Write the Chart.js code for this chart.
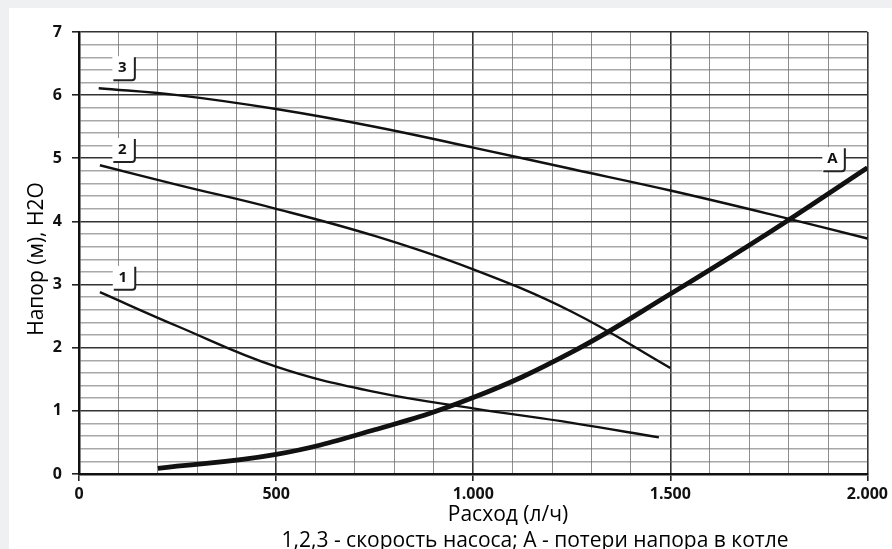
<!DOCTYPE html>
<html><head><meta charset="utf-8">
<script src="https://cdn.jsdelivr.net/npm/chart.js@4.4.0/dist/chart.umd.min.js"></script>
<style>
html,body{margin:0;padding:0;background:#eff0f2;width:892px;height:549px;overflow:hidden;}
#wrap{position:absolute;left:9px;top:8px;width:883px;height:541px;background:#fff;}
canvas{display:block;}
</style></head><body>
<div id="wrap"><canvas id="c" width="883" height="541"></canvas></div>
<script>
// ---- data (flow in l/h, head in m) ----
const flow3 = [50, 250, 500, 750, 1000, 1250, 1500, 1750, 2000];
const head3 = [6.11, 6.0, 5.78, 5.5, 5.17, 4.83, 4.49, 4.12, 3.73];
const flow2 = [53, 250, 500, 750, 1000, 1250, 1500];
const head2 = [4.89, 4.58, 4.2, 3.77, 3.24, 2.57, 1.68];
const flow1 = [53, 250, 500, 750, 1000, 1250, 1471];
const head1 = [2.88, 2.34, 1.7, 1.3, 1.04, 0.81, 0.58];
const flowA = [200, 500, 750, 1000, 1250, 1500, 1750, 2000];
const headA = [0.09, 0.31, 0.7, 1.21, 1.93, 2.85, 3.82, 4.85];

const curveNames = ['1', '2', '3', 'A'];
const labelFlow = [111, 110, 110, 1911];
const labelHead = [3.13, 5.155, 6.45, 5.01];

const xMajorTicks = [0, 500, 1000, 1500, 2000];
const xTickText = ['0', '500', '1.000', '1.500', '2.000'];
const yMajorTicks = [0, 1, 2, 3, 4, 5, 6, 7];

const xTitle = 'Расход (л/ч)';
const yTitle = 'Напор (м), H2O';
const noteText = '1,2,3 - скорость насоса; А - потери напора в котле';

// ---- helpers ----
const pts = (xs, ys) => xs.map((x, i) => ({x: x, y: ys[i]}));
const isMajorX = v => xMajorTicks.some(t => Math.abs(t - v) < 1e-6);
const isMajorY = v => yMajorTicks.some(t => Math.abs(t - v) < 1e-6);
const TICK_FONT = {family: "'Open Sans', 'Liberation Sans', sans-serif", size: 16, weight: 'bold'};
const TEXT_FONT = "500 21px 'Open Sans', 'Liberation Sans', sans-serif";

const lineDs = (label, data, w) => ({
  label, data, borderColor: '#111', borderWidth: w, pointRadius: 0,
  tension: 0.4, fill: false, borderCapStyle: 'butt'
});

const decor = {
  id: 'decor',
  afterDatasetsDraw(chart) {
    const {ctx, scales: {x, y}} = chart;
    ctx.save();
    curveNames.forEach((name, i) => {
      const cx = x.getPixelForValue(labelFlow[i]);
      const cy = y.getPixelForValue(labelHead[i]);
      const L = cx - 10, R = cx + 12.5, T = cy - 10.5, B = cy + 13.5;
      ctx.fillStyle = '#fff';
      ctx.fillRect(L, T, R - L, B - T);
      ctx.fillStyle = '#111';
      ctx.font = "bold 15px 'Open Sans', 'Liberation Sans', sans-serif";
      ctx.textAlign = 'center';
      ctx.textBaseline = 'middle';
      ctx.fillText(name, cx, cy + 1);
      ctx.strokeStyle = '#222';
      ctx.lineWidth = 2;
      ctx.beginPath();
      ctx.moveTo(R, T + 1);
      ctx.lineTo(R, B - 3);
      ctx.arcTo(R, B, R - 3, B, 3);
      ctx.lineTo(L + 1, B);
      ctx.stroke();
    });
    ctx.restore();
  },
  afterDraw(chart) {
    const {ctx} = chart;
    ctx.save();
    ctx.fillStyle = '#000';
    ctx.font = TEXT_FONT;
    ctx.textAlign = 'center';
    ctx.textBaseline = 'alphabetic';
    ctx.fillText(xTitle, 499, 513);
    ctx.fillText(noteText, 526, 539);
    ctx.translate(28, 251);
    ctx.rotate(-Math.PI / 2);
    ctx.textBaseline = 'middle';
    ctx.fillText(yTitle, 0, 0);
    ctx.restore();
  }
};

new Chart(document.getElementById('c'), {
  type: 'line',
  data: {
    datasets: [
      lineDs('1', pts(flow1, head1), 2.4),
      lineDs('2', pts(flow2, head2), 2.4),
      lineDs('3', pts(flow3, head3), 2.4),
      lineDs('A', pts(flowA, headA), 4.8)
    ]
  },
  options: {
    responsive: false,
    devicePixelRatio: 1,
    animation: false,
    layout: {padding: {left: 0, right: 23, top: 24, bottom: 0}},
    plugins: {legend: {display: false}, tooltip: {enabled: false}, title: {display: false}},
    scales: {
      x: {
        type: 'linear', min: 0, max: 2000,
        afterFit: s => { s.height = 75; },
        ticks: {
          stepSize: 100, autoSkip: false, maxRotation: 0, padding: 4,
          color: '#111', font: TICK_FONT,
          callback: v => { const i = xMajorTicks.findIndex(t => Math.abs(t - v) < 1e-6); return i >= 0 ? xTickText[i] : ''; }
        },
        grid: {
          drawTicks: true, tickLength: 7,
          color: c => isMajorX(c.tick.value) ? '#333' : '#8e8e8e',
          lineWidth: c => isMajorX(c.tick.value) ? 1.6 : 1,
          tickColor: c => isMajorX(c.tick.value) ? '#222' : 'rgba(0,0,0,0)',
          tickWidth: 1.6
        },
        border: {display: true, color: '#111', width: 2.5}
      },
      y: {
        type: 'linear', min: 0, max: 7,
        afterFit: s => { s.width = 70; },
        ticks: {
          stepSize: 0.2, autoSkip: false, padding: 10,
          color: '#111', font: TICK_FONT,
          callback: v => isMajorY(v) ? String(Math.round(v)) : ''
        },
        grid: {
          drawTicks: true, tickLength: 7,
          color: c => isMajorY(c.tick.value) ? '#333' : 'rgba(110,110,110,0.6)',
          lineWidth: c => isMajorY(c.tick.value) ? 1.6 : 1.5,
          tickColor: c => isMajorY(c.tick.value) ? '#222' : 'rgba(0,0,0,0)',
          tickWidth: 1.6
        },
        border: {display: true, color: '#111', width: 2.5}
      }
    }
  },
  plugins: [decor]
});
</script>
</body></html>
